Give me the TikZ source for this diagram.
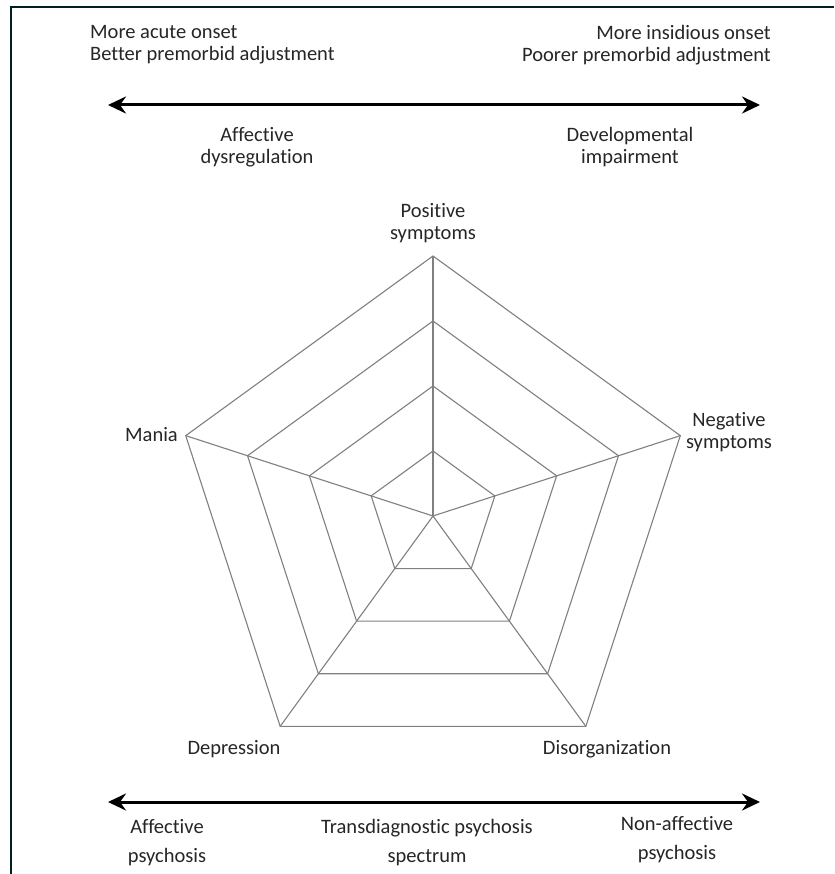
\documentclass[tikz,border=0pt]{standalone}
\usepackage{fontspec}
\setmainfont{Carlito}[Ligatures=NoCommon]
\usetikzlibrary{arrows.meta,calc}
\begin{document}
\begin{tikzpicture}[x=1pt,y=-1pt,
  lbl/.style={font=\fontsize{20.5}{22}\selectfont, text=black!85, inner sep=0pt, align=center},
  lblb/.style={font=\fontsize{20.5}{29}\selectfont, text=black!85, inner sep=0pt, align=center},
  web/.style={draw=black!50, line width=1.1pt, line join=miter},
  axis/.style={line width=3pt, {Stealth[length=18pt,width=17pt,inset=6pt]}-{Stealth[length=18pt,width=17pt,inset=6pt]}},
  frame/.style={draw=black!75!teal, line width=2pt}]
\useasboundingbox (0,0) rectangle (834,874);
\fill[white] (0,0) rectangle (834,874);
% frame
\coordinate (f1) at (11,874);
\coordinate (f2) at (11,7);
\coordinate (f3) at (834,7);
\draw[frame] (f1) -- (f2) -- (f3);
% top texts
\node[lbl, align=left, anchor=west] (tl) at (90,45) {More acute onset\\Better premorbid adjustment};
\node[lbl, align=right, anchor=east] (tr) at (771,45) {More insidious onset\\Poorer premorbid adjustment};
\coordinate (a1) at (108,105);
\coordinate (a2) at (760,105);
\draw[axis] (a1) -- (a2);
\node[lbl] (ad) at (257,147) {Affective\\dysregulation};
\node[lbl] (di) at (630,147) {Developmental\\impairment};
% pentagon web
\coordinate (O) at (433,516);
\foreach \i/\a in {1/90,2/18,3/-54,4/-126,5/162}{
  \foreach \k in {1,2,3,4}{
    \coordinate (v\i\k) at ($(O)+({65*\k*cos(\a)},{-65*\k*sin(\a)})$);
  }
}
\foreach \k in {1,2,3,4}{
  \draw[web] (v1\k) -- (v2\k) -- (v3\k) -- (v4\k) -- (v5\k) -- cycle;
}
\foreach \i in {1,...,5}{ \draw[web] (O) -- (v\i4); }
% axis labels
\node[lbl] (pos) at (433,223) {Positive\\symptoms};
\node[lbl, anchor=east] (man) at (178,435) {Mania};
\node[lbl] (neg) at (729,432) {Negative\\symptoms};
\node[lbl] (dep) at (234,749) {Depression};
\node[lbl] (dis) at (607,749) {Disorganization};
% bottom
\coordinate (b1) at (108,802);
\coordinate (b2) at (760,802);
\draw[axis] (b1) -- (b2);
\node[lblb] (ap) at (167,843) {Affective\\psychosis};
\node[lblb] (tp) at (427,843) {Transdiagnostic psychosis\\spectrum};
\node[lblb] (np) at (677,840) {Non-affective\\psychosis};
\end{tikzpicture}
\end{document}
